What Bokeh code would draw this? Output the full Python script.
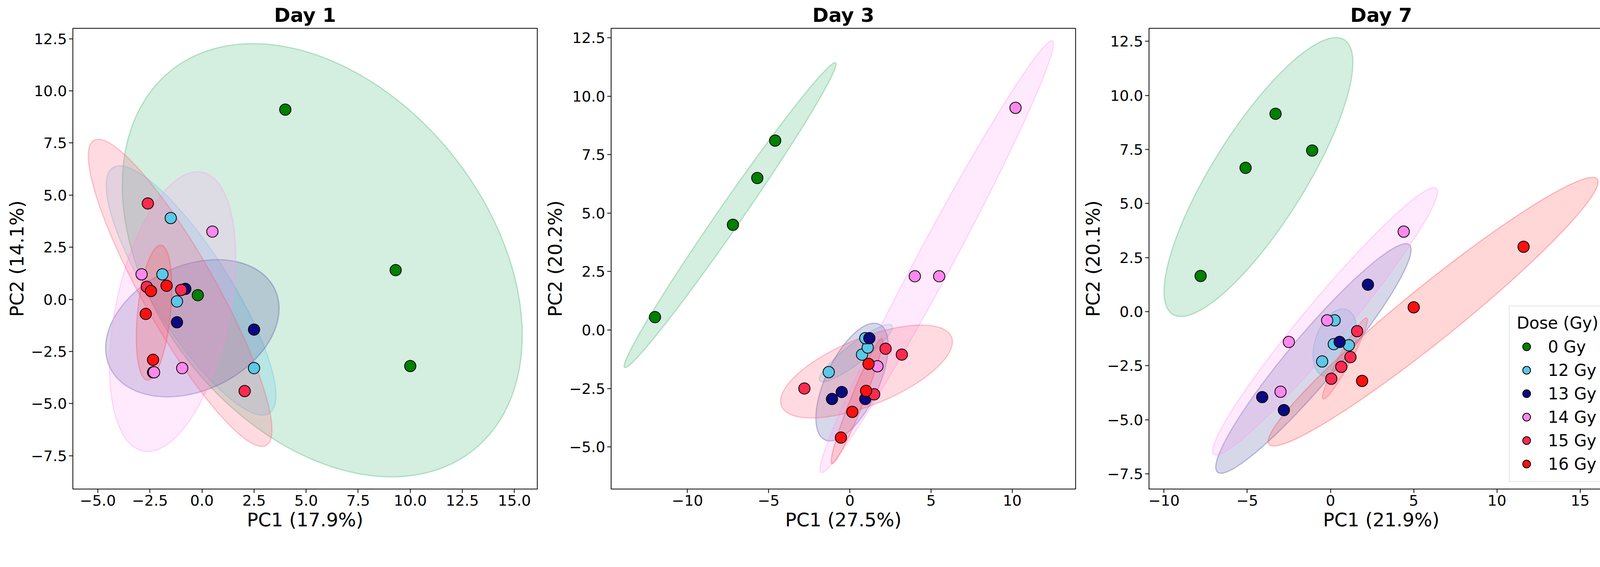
import numpy as np
from bokeh.plotting import figure
from bokeh.layouts import row
from bokeh.models import Range1d, Legend, LegendItem, CustomJSTickFormatter
from bokeh.embed import file_html
from bokeh.resources import INLINE

doses = ["0 Gy", "12 Gy", "13 Gy", "14 Gy", "15 Gy", "16 Gy"]
point_colors = ["#008000", "#5BC8E8", "#0A0A80", "#FF88EE", "#FF2A50", "#FF1010"]
ellipse_colors = ["#3CB371", "#5BC8E8", "#4A4AA0", "#FF99F0", "#FF5A78", "#FF4848"]

day1 = {
    "0 Gy": ([4.0, 9.3, 10.0, -0.2], [9.1, 1.4, -3.2, 0.2]),
    "12 Gy": ([-1.5, -1.9, -1.2, 2.5], [3.9, 1.2, -0.1, -3.3]),
    "13 Gy": ([-0.8, -1.2, 2.5, -2.35], [0.5, -1.1, -1.45, -3.5]),
    "14 Gy": ([0.5, -2.9, -0.95, -2.3], [3.25, 1.2, -3.3, -3.5]),
    "15 Gy": ([-2.6, -2.65, -1.0, 2.05], [4.6, 0.6, 0.45, -4.4]),
    "16 Gy": ([-1.7, -2.45, -2.7, -2.35], [0.65, 0.4, -0.7, -2.9]),
}
day3 = {
    "0 Gy": ([-12.0, -7.2, -5.7, -4.6], [0.55, 4.5, 6.5, 8.1]),
    "12 Gy": ([-1.3, 0.75, 1.1, 0.95], [-1.8, -1.05, -0.75, -0.35]),
    "13 Gy": ([1.2, -0.5, -1.1, 0.95], [-0.35, -2.65, -2.95, -2.95]),
    "14 Gy": ([10.2, 4.0, 5.5, 1.7], [9.5, 2.3, 2.3, -1.55]),
    "15 Gy": ([-2.8, 2.2, 3.2, 1.5], [-2.5, -0.8, -1.05, -2.75]),
    "16 Gy": ([1.15, 1.0, 0.15, -0.55], [-1.45, -2.6, -3.5, -4.6]),
}
day7 = {
    "0 Gy": ([-7.8, -5.1, -3.3, -1.1], [1.65, 6.65, 9.15, 7.45]),
    "12 Gy": ([0.25, 0.2, 1.1, -0.5], [-0.4, -1.5, -1.55, -2.3]),
    "13 Gy": ([2.25, 0.55, -4.1, -2.8], [1.25, -1.4, -3.95, -4.55]),
    "14 Gy": ([4.4, -0.2, -2.5, -3.0], [3.7, -0.4, -1.4, -3.7]),
    "15 Gy": ([1.6, 1.2, 0.65, 0.05], [-0.9, -2.1, -2.55, -3.1]),
    "16 Gy": ([11.6, 5.0, 1.9], [3.0, 0.2, -3.2]),
}

ticks_d1_x = [-5, -2.5, 0, 2.5, 5, 7.5, 10, 12.5, 15]
ticks_y = [-7.5, -5, -2.5, 0, 2.5, 5, 7.5, 10, 12.5]
ticks_d3_x = [-10, -5, 0, 5, 10]
ticks_d7_x = [-10, -5, 0, 5, 10, 15]

panels = [
    ("Day 1", day1, "PC1 (17.9%)", "PC2 (14.1%)", (-6.2, 16.1), (-9.1, 13.0), ticks_d1_x, 1, 186, 12, 1387),
    ("Day 3", day3, "PC1 (27.5%)", "PC2 (20.2%)", (-14.7, 13.9), (-6.8, 12.9), ticks_d3_x, 0, 177, 13, 1379),
    ("Day 7", day7, "PC1 (21.9%)", "PC2 (20.1%)", (-10.9, 17.0), (-8.2, 13.1), ticks_d7_x, 0, 175, 10, 1374),
]

def fmt(dec):
    return CustomJSTickFormatter(code=f"return tick.toFixed({dec}).replace('-', '\u2212');")

def ellipse(xs, ys, n_std=2.0, n=200):
    xs = np.asarray(xs); ys = np.asarray(ys)
    cov = np.cov(xs, ys)
    vals, vecs = np.linalg.eigh(cov)
    t = np.linspace(0, 2 * np.pi, n)
    circ = np.vstack([np.cos(t), np.sin(t)])
    pts = vecs @ (np.sqrt(np.maximum(vals, 0))[:, None] * n_std * circ)
    return pts[0] + xs.mean(), pts[1] + ys.mean()

figs = []
for i, (title, data, xl, yl, xr, yr, xt, xdec, bl, br, w) in enumerate(panels):
    p = figure(width=w, height=1362, output_backend="svg", toolbar_location=None,
               x_range=Range1d(*xr), y_range=Range1d(*yr),
               min_border_left=bl, min_border_right=br, min_border_top=72, min_border_bottom=111)
    p.title.text = title
    p.title.align = "center"
    p.title.text_font = "DejaVu Sans"
    p.title.text_font_size = "50px"
    p.title.text_font_style = "bold"
    p.title.text_color = "black"
    p.grid.visible = False
    p.outline_line_color = "black"
    p.outline_line_width = 2
    for ax in (p.xaxis, p.yaxis):
        ax.major_label_text_font = "DejaVu Sans"
        ax.major_label_text_font_size = "38px"
        ax.major_label_text_color = "black"
        ax.axis_label_text_font = "DejaVu Sans"
        ax.axis_label_text_font_size = "48px"
        ax.axis_label_text_font_style = "normal"
        ax.axis_label_text_color = "black"
        ax.minor_tick_line_color = None
        ax.major_tick_line_width = 2
        ax.major_tick_line_color = "black"
        ax.major_tick_out = 10
        ax.major_tick_in = 0
        ax.axis_line_color = None
    p.xaxis.axis_label = xl
    p.yaxis.axis_label = yl
    p.xaxis.ticker = xt
    p.yaxis.ticker = [t for t in ticks_y if yr[0] <= t <= yr[1]]
    p.xaxis.formatter = fmt(xdec)
    p.yaxis.formatter = fmt(1)
    for d, ec in zip(doses, ellipse_colors):
        ex, ey = ellipse(*data[d])
        p.patch(ex, ey, fill_color=ec, fill_alpha=0.22, line_color=ec, line_alpha=0.35, line_width=3)
    items = []
    for d, pc in zip(doses, point_colors):
        xs, ys = data[d]
        r = p.scatter(xs, ys, size=29, fill_color=pc, line_color="black", line_width=2)
        items.append(LegendItem(label=d, renderers=[r]))
    if i == 2:
        lg = Legend(items=items, location="bottom_right", title="Dose (Gy)")
        lg.title_text_font = "DejaVu Sans"
        lg.title_text_font_size = "42px"
        lg.title_text_font_style = "normal"
        lg.title_text_color = "black"
        lg.title_standoff = 10
        lg.label_text_font = "DejaVu Sans"
        lg.label_text_font_size = "42px"
        lg.label_text_color = "black"
        lg.label_standoff = 30
        lg.glyph_width = 50
        lg.glyph_height = 52
        lg.label_height = 52
        lg.spacing = 8
        lg.padding = 18
        lg.margin = 18
        lg.border_line_color = "#cccccc"
        lg.border_line_width = 2
        lg.background_fill_alpha = 0.85
        p.add_layout(lg)
    figs.append(p)

layout = row(*figs)
open("out.html", "w").write(file_html(layout, INLINE))
